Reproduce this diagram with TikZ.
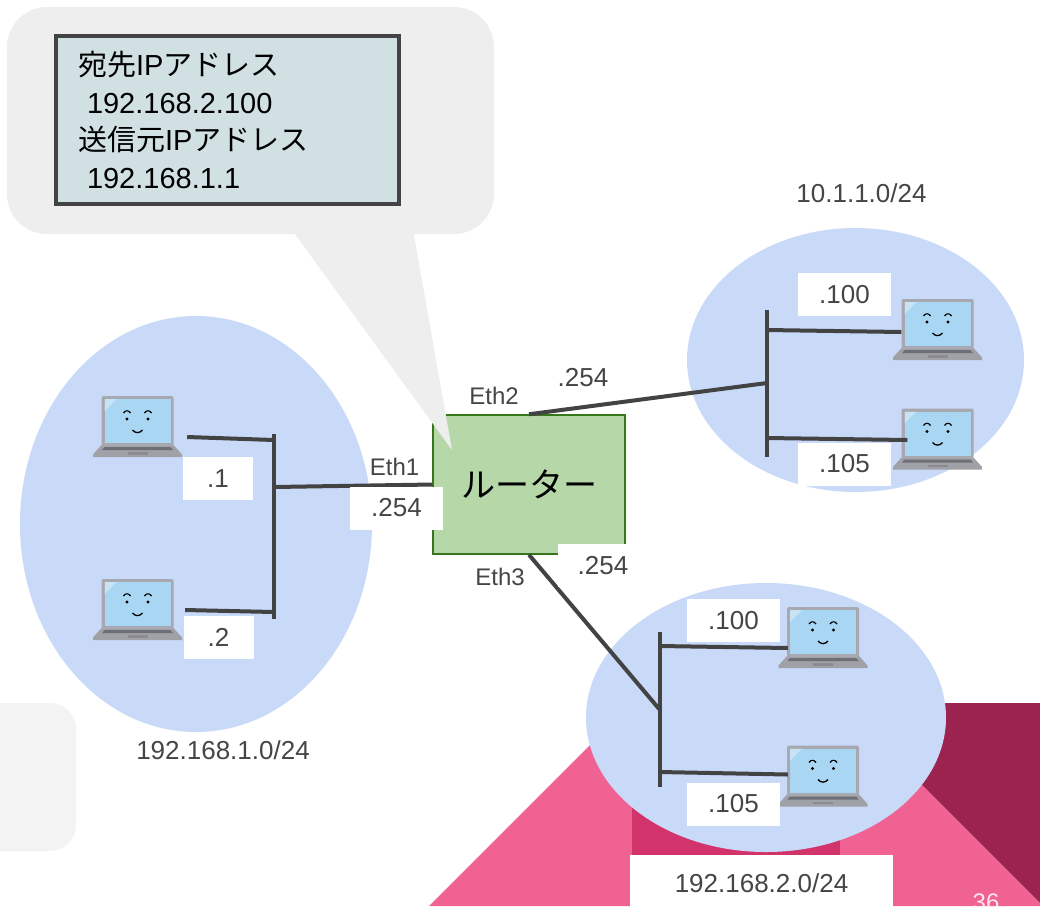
\documentclass[tikz,border=0pt]{standalone}
\usepackage{fontspec}
\setmainfont{Liberation Sans}
\newfontfamily\jpfont{Noto Sans CJK JP}
\usetikzlibrary{positioning,shapes.geometric}
\definecolor{lanBlue}{HTML}{C9DAF8}
\definecolor{rtFill}{HTML}{B6D7A8}
\definecolor{rtEdge}{HTML}{38761D}
\definecolor{wireG}{HTML}{434343}
\definecolor{txtG}{HTML}{454545}
\definecolor{bubbleG}{HTML}{EEEEEE}
\definecolor{panelG}{HTML}{F3F3F3}
\definecolor{pktFill}{HTML}{D0E0E3}
\definecolor{decoPink}{HTML}{F06292}
\definecolor{decoRed}{HTML}{D1336A}
\definecolor{decoWine}{HTML}{9C2350}
\definecolor{lapFrame}{HTML}{A8A8B0}
\definecolor{lapScreen}{HTML}{A9D6F2}
\definecolor{lapKey}{HTML}{6E6E76}

\begin{document}
\begin{tikzpicture}[x=1pt,y=-1pt]
  \tikzset{
    wire/.style={draw=wireG,line width=4pt},
    lan/.style={ellipse,fill=lanBlue,inner sep=0pt},
    lbl/.style={text=txtG,font=\fontsize{26}{30}\selectfont,inner sep=0pt},
    ethlbl/.style={lbl,font=\fontsize{24}{28}\selectfont},
    ipbox/.style={lbl,fill=white,minimum width=#1,minimum height=43pt},
    laptop/.style={minimum width=90pt,minimum height=62pt,inner sep=0pt,
      path picture={
        \begin{scope}[shift={(path picture bounding box.center)}]
          \fill[lapFrame!95!black] (-36,19) -- (36,19) -- (44.5,28.5) -- (44.5,31) -- (-44.5,31) -- (-44.5,28.5) -- cycle;
          \fill[lapKey] (-33,21) -- (33,21) -- (35.5,24) -- (-35.5,24) -- cycle;
          \fill[lapKey!80] (-10,26) rectangle (10,28.5);
          \fill[lapFrame,rounded corners=1.5pt] (-36,-30) rectangle (36,20);
          \fill[lapScreen] (-33,-27) rectangle (33,17);
          \fill[white,opacity=0.35] (-33,-27) -- (-21,-27) -- (-33,-15) -- cycle;
          \fill[black] (-10.5,-7) circle (1.7) (10.5,-7) circle (1.7);
          \draw[black,line width=1.1pt] (-14,-13) .. controls (-12,-16) and (-9,-16) .. (-7,-13)
            (7,-13) .. controls (9,-16) and (12,-16) .. (14,-13);
          \draw[black,line width=1.3pt] (-5,4) .. controls (-2,7.5) and (2,7.5) .. (5,4);
        \end{scope}}}
  }
  \fill[white] (0,0) rectangle (1040,906);
  \useasboundingbox (0,0) rectangle (1040,906);

  % slide decoration, bottom right
  \fill[decoWine] (840,703) -- (1040,703) -- (1040,903) -- cycle;
  \fill[decoPink] (429,906) -- (736,599) -- (1043,906) -- cycle;
  \fill[decoRed] (632,700) rectangle (840,906);
  \node[font=\fontsize{24}{28}\selectfont,text=white!85!decoPink,anchor=base,inner sep=0pt] (pg) at (986,910) {36};
  \fill[panelG,rounded corners=26pt] (-40,703) rectangle (76,851);

  % the three LANs
  \node[lan,minimum width=352pt,minimum height=416pt] (net1) at (196,524) {};
  \node[lan,minimum width=337pt,minimum height=264pt] (net2) at (855.5,360) {};
  \node[lan,minimum width=360pt,minimum height=269pt] (net3) at (766,717.5) {};

  \node[draw=rtEdge,line width=1.5pt,fill=rtFill,minimum width=192pt,minimum height=139pt,
    font=\jpfont\fontsize{34}{40}\selectfont] (rt) at (529,484.5) {ルーター};

  % hosts
  \foreach \n/\x/\y in {pcA/137.5/426,pcB/137.5/609,pcC/937.5/329,pcD/937.5/438.5,pcE/823/637,pcF/823/775.5}
    \node[laptop] (\n) at (\x,\y) {};

  % buses
  \coordinate (b1t) at (274,434); \coordinate (b1b) at (274,619);
  \coordinate (j1a) at (274,440); \coordinate (j1b) at (274,612); \coordinate (j1c) at (274,487);
  \coordinate (b2t) at (767,310); \coordinate (b2b) at (767,457);
  \coordinate (j2a) at (767,330); \coordinate (j2b) at (767,438); \coordinate (j2c) at (767,383);
  \coordinate (b3t) at (660,632); \coordinate (b3b) at (660,787);
  \coordinate (j3a) at (660,646); \coordinate (j3b) at (660,772); \coordinate (j3c) at (660,710);
  \foreach \a/\b in {b1t/b1b,b2t/b2b,b3t/b3b}
    \draw[wire] (\a) -- (\b);
  \draw[wire] (pcA.east) ++(4.5,11) -- (j1a);
  \draw[wire] (pcB.east) ++(2.5,1) -- (j1b);
  \draw[wire] (pcC.west) ++(9,3) -- (j2a);
  \draw[wire] (pcD.west) ++(15,1.5) -- (j2b);
  \draw[wire] (pcE.west) ++(10,11) -- (j3a);
  \draw[wire] (pcF.west) ++(10,-1) -- (j3b);
  \draw[wire] (j1c) -- (rt.west);
  \draw[wire] (rt.north) -- (j2c);
  \draw[wire] (rt.south) -- (j3c);

  % addresses
  \foreach \n/\x/\y/\w/\t in {a1/218/478.5/70/.1,a2/218.5/637/70/.2,e1/396.5/508/93/.254,e3/603/565.5/90/.254,
      c1/844.5/294.5/93/.100,c2/844.5/464/93/.105,d1/733.5/620.5/93/.100,d2/733.5/804/93/.105}
    \node[ipbox=\w pt] (\n) at (\x,\y) {\t};
  \node[lbl] (e2) at (583,378) {.254};
  \node[ethlbl] (eth1) at (394.5,467) {Eth1};
  \node[ethlbl] (eth2) at (494,396) {Eth2};
  \node[ethlbl] (eth3) at (500,577) {Eth3};
  \node[lbl,below=8pt of net1,xshift=27pt] (n1lbl) {192.168.1.0/24};
  \node[lbl,above=25pt of net2,xshift=6pt] (n2lbl) {10.1.1.0/24};
  \node[lbl,fill=white,minimum width=263pt,minimum height=56pt] (n3lbl) at (761.5,883) {192.168.2.0/24};

  % speech bubble with the packet header
  \node[fill=bubbleG,rounded corners=40pt,minimum width=487pt,minimum height=227pt] (bubble) at (250.5,120.5) {};
  \coordinate (tip) at (452,450);
  \fill[bubbleG] (292,230) -- (413,230) -- (tip) -- cycle;
  \node[draw=wireG,line width=4pt,fill=pktFill,minimum width=343pt,minimum height=168pt,
    text width=299pt,inner xsep=22pt,align=left,font=\fontsize{29}{37.7}\selectfont] (pkt) at (227.5,120)
    {{\jpfont 宛先}IP{\jpfont アドレス}\\
     \hspace*{9pt}192.168.2.100\\
     {\jpfont 送信元}IP{\jpfont アドレス}\\
     \hspace*{9pt}192.168.1.1};
\end{tikzpicture}
\end{document}
